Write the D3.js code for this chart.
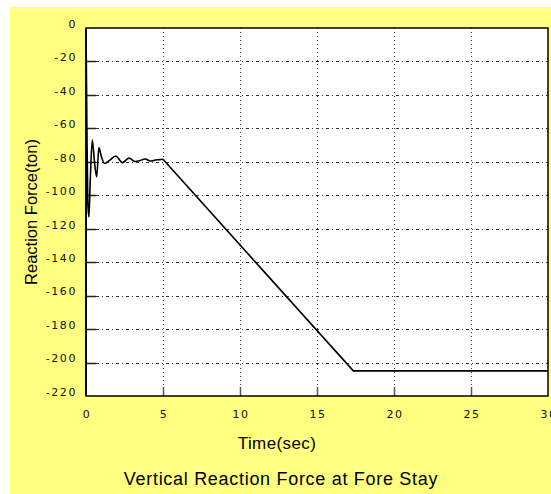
<!DOCTYPE html>
<html>
<head>
<meta charset="utf-8">
<script src="https://cdn.jsdelivr.net/npm/d3@7"></script>
<style>
  body { margin: 0; background: #fff; }
  svg { display: block; }
</style>
</head>
<body>
<div id="chart"></div>
<script>
"use strict";

// time (sec) and vertical reaction force (ton)
var times = [0, 0.06, 0.12, 0.19, 0.28, 0.41, 0.55, 0.69, 0.84, 1.0, 1.2, 1.55, 1.93, 2.36, 2.79, 3.2, 3.5, 3.83, 4.2, 4.5, 4.8, 5.0, 17.36, 30];
var forces = [0, -60, -105, -113, -90, -67, -80, -89, -71.5, -77, -81, -79, -76.5, -80.5, -77.8, -79.8, -79.3, -78.3, -79.5, -78.9, -78.7, -78.5, -205, -205];

var xTicks = [0, 5, 10, 15, 20, 25, 30];
var yTicks = [0, -20, -40, -60, -80, -100, -120, -140, -160, -180, -200, -220];

var width = 551,
  height = 494,
  plot = { left: 86, top: 28, right: 548, bottom: 396 };

var svg = d3
  .select("#chart")
  .append("svg")
  .attr("width", width)
  .attr("height", height);

// yellow panel
svg
  .append("rect")
  .attr("x", 10)
  .attr("y", 7)
  .attr("width", width - 10)
  .attr("height", height - 7)
  .attr("fill", "#ffff80");

var x = d3.scaleLinear().domain([0, 30]).range([plot.left, plot.right]);
var y = d3.scaleLinear().domain([0, -220]).range([plot.top, plot.bottom]);

svg
  .append("rect")
  .attr("x", plot.left)
  .attr("y", plot.top)
  .attr("width", plot.right - plot.left)
  .attr("height", plot.bottom - plot.top)
  .attr("fill", "#fff");

// grid
var grid = svg.append("g").attr("class", "grid");
grid
  .selectAll("line.h")
  .data(yTicks.filter(function (d) { return d < 0 && d > -220; }))
  .join("line")
  .attr("class", "h")
  .attr("x1", plot.left)
  .attr("x2", plot.right)
  .attr("y1", function (d) { return Math.round(y(d)) + 0.5; })
  .attr("y2", function (d) { return Math.round(y(d)) + 0.5; })
  .attr("stroke", "#333")
  .attr("stroke-width", 1)
  .attr("stroke-dasharray", "3,3,1,3");
grid
  .selectAll("line.v")
  .data(xTicks.filter(function (d) { return d > 0 && d < 30; }))
  .join("line")
  .attr("class", "v")
  .attr("x1", function (d) { return Math.round(x(d)) + 0.5; })
  .attr("x2", function (d) { return Math.round(x(d)) + 0.5; })
  .attr("y1", plot.top)
  .attr("y2", plot.bottom)
  .attr("stroke", "#444")
  .attr("stroke-width", 1)
  .attr("stroke-dasharray", "1,3");

// short tick marks on the left and bottom
grid
  .selectAll("line.yt")
  .data(yTicks.filter(function (d) { return d < 0 && d > -220; }))
  .join("line")
  .attr("class", "yt")
  .attr("x1", plot.left)
  .attr("x2", plot.left + 10)
  .attr("y1", function (d) { return Math.round(y(d)) + 0.5; })
  .attr("y2", function (d) { return Math.round(y(d)) + 0.5; })
  .attr("stroke", "#222")
  .attr("stroke-width", 1.5);
grid
  .selectAll("line.xt")
  .data(xTicks.filter(function (d) { return d > 0 && d < 30; }))
  .join("line")
  .attr("class", "xt")
  .attr("x1", function (d) { return Math.round(x(d)) + 0.5; })
  .attr("x2", function (d) { return Math.round(x(d)) + 0.5; })
  .attr("y1", plot.bottom)
  .attr("y2", plot.bottom - 9)
  .attr("stroke", "#555")
  .attr("stroke-width", 1.5);

// data line: smooth through the oscillation, straight for the ramp
var points = times.map(function (t, i) { return [t, forces[i]]; });
var oscillation = points.filter(function (d) { return d[0] <= 5; });
var ramp = points.filter(function (d) { return d[0] >= 5; });

function drawLine(data, curve) {
  svg
    .append("path")
    .datum(data)
    .attr("fill", "none")
    .attr("stroke", "#000")
    .attr("stroke-width", 1.6)
    .attr("stroke-linejoin", "round")
    .attr(
      "d",
      d3
        .line()
        .curve(curve)
        .x(function (d) { return x(d[0]); })
        .y(function (d) { return y(d[1]); })
    );
}
drawLine(oscillation, d3.curveMonotoneX);
drawLine(ramp, d3.curveLinear);

// frame
svg
  .append("rect")
  .attr("x", plot.left)
  .attr("y", plot.top)
  .attr("width", plot.right - plot.left)
  .attr("height", plot.bottom - plot.top)
  .attr("fill", "none")
  .attr("stroke", "#000")
  .attr("stroke-width", 1.5);
svg
  .append("line")
  .attr("x1", plot.left)
  .attr("x2", plot.left)
  .attr("y1", plot.top)
  .attr("y2", plot.bottom)
  .attr("stroke", "#000")
  .attr("stroke-width", 2);

// tick labels
var tickFont = "'DejaVu Sans', sans-serif";
svg
  .append("g")
  .selectAll("text")
  .data(yTicks)
  .join("text")
  .attr("x", 77)
  .attr("y", function (d) { return y(d) - 4; })
  .attr("dy", "0.35em")
  .attr("text-anchor", "end")
  .attr("font-family", tickFont)
  .attr("font-size", 11)
  .attr("letter-spacing", 1.6)
  .attr("fill", "#111")
  .text(function (d) { return d === 0 ? "0" : "-" + Math.abs(d); });

svg
  .append("g")
  .selectAll("text")
  .data(xTicks)
  .join("text")
  .attr("x", function (d) { return x(d) + 1; })
  .attr("y", 414)
  .attr("dy", "0.35em")
  .attr("text-anchor", "middle")
  .attr("font-family", tickFont)
  .attr("font-size", 11)
  .attr("letter-spacing", 1.6)
  .attr("fill", "#111")
  .text(function (d) { return d; });

// titles
var titleFont = "'Liberation Sans', Arial, sans-serif";
svg
  .append("text")
  .attr("x", 277)
  .attr("y", 449)
  .attr("text-anchor", "middle")
  .attr("font-family", titleFont)
  .attr("font-size", 17)
  .attr("letter-spacing", 0.4)
  .text("Time(sec)");

svg
  .append("text")
  .attr("transform", "translate(37,212) rotate(-90)")
  .attr("text-anchor", "middle")
  .attr("font-family", titleFont)
  .attr("font-size", 16.5)
  .text("Reaction Force(ton)");

svg
  .append("text")
  .attr("x", 281)
  .attr("y", 485)
  .attr("text-anchor", "middle")
  .attr("font-family", titleFont)
  .attr("font-size", 18)
  .attr("letter-spacing", 0.7)
  .text("Vertical Reaction Force at Fore Stay");
</script>
</body>
</html>
